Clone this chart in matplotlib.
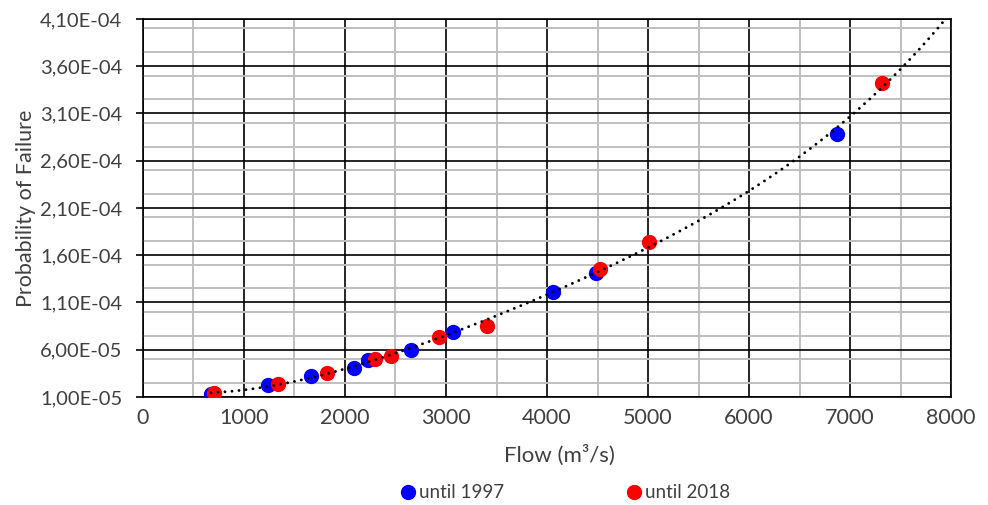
import numpy as np
import matplotlib
matplotlib.use('Agg')
import matplotlib.pyplot as plt
from matplotlib.ticker import MultipleLocator, FuncFormatter

# data
flow_1997 = [673, 1238, 1663, 2089, 2228, 2653, 3069, 4059, 4485, 6871]
pf_1997 = [1.30e-5, 2.27e-5, 3.22e-5, 4.07e-5, 4.92e-5, 5.97e-5, 7.88e-5, 1.211e-4, 1.412e-4, 2.88e-4]
flow_2018 = [703, 1337, 1822, 2297, 2455, 2931, 3406, 4525, 5010, 7317]
pf_2018 = [1.42e-5, 2.38e-5, 3.54e-5, 5.02e-5, 5.34e-5, 7.35e-5, 8.51e-5, 1.455e-4, 1.74e-4, 3.42e-4]

plt.rcParams['font.family'] = ['Lato', 'DejaVu Sans']
txt = '#404040'

fig = plt.figure(figsize=(9.88, 5.05), dpi=100)
ax = fig.add_axes([0.1447, 0.2139, 0.8179, 0.7485])

# polynomial trendline over all points
allx = np.array(flow_1997 + flow_2018)
ally = np.array(pf_1997 + pf_2018)
coef = np.polyfit(allx, ally, 4)
xt = np.linspace(allx.min(), 8000, 300)
ax.plot(xt, np.polyval(coef, xt), color='black', lw=2.1,
        linestyle=(0, (0.01, 2.4)), dash_capstyle='round', zorder=4)

ax.plot(flow_1997, pf_1997, 'o', color='#0000ff', ms=10, label='until 1997', zorder=3)
ax.plot(flow_2018, pf_2018, 'o', color='#ff0000', ms=10, label='until 2018', zorder=3)

ax.set_xlim(0, 8000)
ax.set_ylim(1e-5, 4.1e-4)
ax.xaxis.set_major_locator(MultipleLocator(1000))
ax.xaxis.set_minor_locator(MultipleLocator(500))
ax.set_yticks(np.arange(1e-5, 4.11e-4, 5e-5))
ax.yaxis.set_minor_locator(MultipleLocator(2.5e-5))
ax.yaxis.set_major_formatter(FuncFormatter(lambda v, p: f'{v:.2E}'.replace('.', ',')))

ax.grid(which='major', color='black', lw=1.2)
ax.grid(which='minor', color='#bfbfbf', lw=1.4)
ax.set_axisbelow(True)
for s in ax.spines.values():
    s.set_color('black')
    s.set_linewidth(1.2)

ax.tick_params(axis='y', which='major', length=5, width=1.2, color='black',
               labelsize=14.5, labelcolor=txt, pad=10)
ax.tick_params(axis='x', which='major', length=0, labelsize=15.5, labelcolor=txt, pad=8)
ax.tick_params(which='minor', length=0)

ax.set_xlabel('Flow (m³/s)', fontsize=16, color=txt)
ax.xaxis.set_label_coords(0.515, -0.125)
ax.set_ylabel('Probability of Failure', fontsize=15.5, color=txt, labelpad=3)

fig.legend(loc='center', bbox_to_anchor=(0.571, 0.024), ncol=2, frameon=False,
           fontsize=13.5, labelcolor=txt, handletextpad=0.1, columnspacing=6.4,
           handlelength=1.0, markerscale=1.0)

fig.savefig('out.png', dpi=100)
